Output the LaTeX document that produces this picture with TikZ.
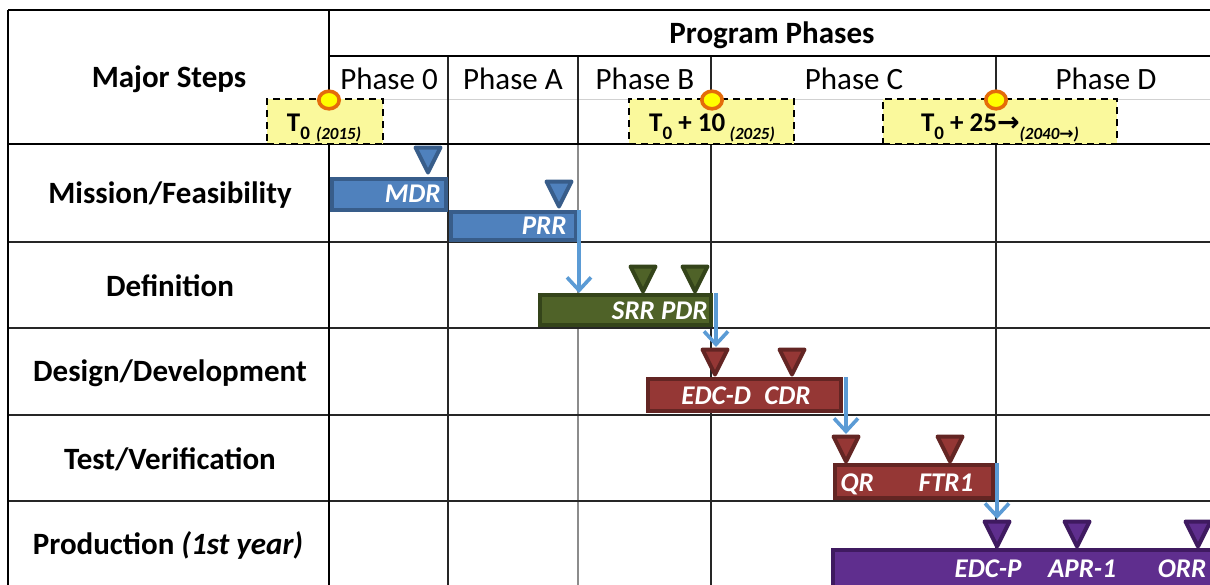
\documentclass[tikz,border=0pt]{standalone}
\usepackage{fontspec}
\setmainfont{Carlito}
\newfontfamily\symfont{DejaVu Sans}
\usetikzlibrary{arrows.meta,shapes.geometric}

\definecolor{boxyellow}{HTML}{FAF99C}
\definecolor{ringorange}{HTML}{E46C0A}
\definecolor{ringyellow}{HTML}{FFFF00}
\definecolor{flowblue}{HTML}{5B9BD5}
\definecolor{bluefill}{HTML}{4F81BD}
\definecolor{blueline}{HTML}{385D8A}
\definecolor{greenfill}{HTML}{4F6228}
\definecolor{greenline}{HTML}{34441A}
\definecolor{redfill}{HTML}{953735}
\definecolor{redline}{HTML}{632523}
\definecolor{purplefill}{HTML}{5F2E8E}
\definecolor{purpleline}{HTML}{3F1A60}

\tikzset{
  frame/.style={line width=1pt, draw=black},
  cell/.style={line width=0.75pt, draw=black!85},
  soft/.style={line width=0.75pt, draw=black!45},
  faint/.style={line width=0.5pt, draw=black!18},
  head/.style={font=\fontsize{15.5}{18}\selectfont\bfseries},
  phase/.style={font=\fontsize{15.5}{18}\selectfont},
  steplabel/.style={font=\fontsize{15.5}{18}\selectfont\bfseries},
  datebox/.style={draw=black, dash pattern=on 3.5pt off 2.5pt, line width=0.75pt,
    fill=boxyellow, anchor=north west, inner sep=0pt, outer sep=0pt},
  datetext/.style={font=\fontsize{13.5}{16}\selectfont\bfseries, anchor=base, inner sep=0pt},
  ring/.style={ellipse, draw=ringorange, fill=ringyellow, line width=1.8pt,
    minimum width=10.2pt, minimum height=8.8pt, inner sep=0pt},
  taskbar/.style={rectangle, line width=2pt, anchor=north west, inner sep=0pt},
  bluebar/.style={taskbar, fill=bluefill, draw=blueline},
  greenbar/.style={taskbar, fill=greenfill, draw=greenline},
  redbar/.style={taskbar, fill=redfill, draw=redline},
  purplebar/.style={taskbar, fill=purplefill, draw=purpleline},
  barlabel/.style={font=\fontsize{13.5}{16}\selectfont\bfseries\itshape, text=white,
    inner sep=0pt},
  ms/.style={line width=2pt, line join=round},
  flow/.style={draw=flowblue, line width=1.8pt,
    -{Straight Barb[length=6.5pt,width=12pt,line width=1.8pt]}}
}

% milestone marker: name, x, top y, style
\newcommand\milestone[4]{%
  \coordinate (#1) at (#2,#3);
  \filldraw[ms,#4] (#2,#3) ++(-12.5,2.5) -- ++(25,0) -- ++(-12.5,25) -- cycle;}

\newcommand\sub[1]{\raisebox{-0.3em}{\fontsize{9.5}{11}\selectfont #1}}
\newcommand\yr[1]{\raisebox{-0.3em}{\fontsize{8.5}{10}\selectfont\itshape #1}}

\begin{document}
\begin{tikzpicture}[x=0.5pt,y=-0.5pt]
\useasboundingbox (0,0) rectangle (1210,584);
\begin{scope}
\clip (0,0) rectangle (1210,584);

% table grid
\draw[faint] (329,99) -- (1215,99);
\draw[soft] (578,144) -- (578,590);
\draw[cell] (448,56) -- (448,590);
\draw[cell] (578,56) -- (578,144);
\draw[cell] (711,56) -- (711,590);
\draw[cell] (996,56) -- (996,590);
\foreach \y in {242,328,415,501} \draw[cell] (8,\y) -- (1215,\y);
\draw[frame] (8,10) -- (1215,10);
\draw[frame] (8,10) -- (8,590);
\draw[frame] (329,10) -- (329,590);
\draw[frame] (329,56) -- (1215,56);
\draw[frame] (8,144) -- (1215,144);

% header texts
\node[head] (title) at (772,35) {Program Phases};
\node[head] (major) at (169,79) {Major Steps};
\node[phase] (p0) at (389,79) {Phase 0};
\node[phase] (pa) at (513,79) {Phase A};
\node[phase] (pb) at (645,79) {Phase B};
\node[phase] (pc) at (854,79) {Phase C};
\node[phase] (pd) at (1106,79) {Phase D};

% date boxes and phase-boundary markers
\node[datebox, minimum width=58pt, minimum height=22.5pt] (d1) at (267,99) {};
\node[datebox, minimum width=82.5pt, minimum height=22.5pt] (d2) at (629,99) {};
\node[datebox, minimum width=117pt, minimum height=22.5pt] (d3) at (883,99) {};
\node[ring] (r1) at (329,100) {};
\node[ring] (r2) at (712,100) {};
\node[ring] (r3) at (996,100) {};
\node[datetext] (t1) at (324,131) {T\sub{0} \yr{(2015)}};
\node[datetext] (t2) at (712,131) {T\sub{0} + 10\,\yr{(2025)}};
\node[datetext] (t3) at (1000,131) {T\sub{0} + 25{\symfont\bfseries →}\yr{(2040{\symfont →})}};

% step labels
\node[steplabel] (s1) at (170,195) {Mission/Feasibility};
\node[steplabel] (s2) at (170,286) {Definition};
\node[steplabel] (s3) at (170,373) {Design/Development};
\node[steplabel] (s4) at (170,459) {Test/Verification};
\node[steplabel] (s5) at (168,545) {Production \textit{(1st year)}};

% task bars
\node[bluebar, minimum width=57pt, minimum height=15.5pt] (mdr) at (330,177) {};
\node[bluebar, minimum width=62.5pt, minimum height=14pt] (prr) at (449,210) {};
\node[greenbar, minimum width=85.5pt, minimum height=15pt] (grn) at (538,293) {};
\node[redbar, minimum width=96.5pt, minimum height=16pt] (dev) at (646,377) {};
\node[redbar, minimum width=79pt, minimum height=16.5pt] (tst) at (833,463) {};
\node[purplebar, minimum width=220pt, minimum height=36pt] (prd) at (831,548) {};

% milestones
\milestone{mMDR}{428}{145}{fill=bluefill, draw=blueline}
\milestone{mPRR}{559}{179}{fill=bluefill, draw=blueline}
\milestone{mSRR}{643}{264}{fill=greenfill, draw=greenline}
\milestone{mPDR}{695}{264}{fill=greenfill, draw=greenline}
\milestone{mEDCD}{715}{347}{fill=redfill, draw=redline}
\milestone{mCDR}{792}{347}{fill=redfill, draw=redline}
\milestone{mQR}{846}{434}{fill=redfill, draw=redline}
\milestone{mFTR}{950}{434}{fill=redfill, draw=redline}
\milestone{mEDCP}{997}{519}{fill=purplefill, draw=purpleline}
\milestone{mAPR}{1077}{519}{fill=purplefill, draw=purpleline}
\milestone{mORR}{1198}{519}{fill=purplefill, draw=purpleline}

% hand-over arrows between steps
\draw[flow] ([xshift=0.5pt]prr.north east) -- ([xshift=0.5pt]prr.north east |- grn.north);
\draw[flow] ([xshift=1.5pt]grn.north east) -- ([xshift=1.5pt]grn.north east |- mEDCD);
\draw[flow] ([xshift=1.5pt]dev.north east) -- ([xshift=1.5pt]dev.north east |- mQR);
\draw[flow] ([xshift=1pt]tst.north east) -- ([xshift=1pt]tst.north east |- mEDCP);

% bar labels
\node[barlabel, anchor=base east] (lMDR) at (441,202) {MDR};
\node[barlabel, anchor=base east] (lPRR) at (567,234) {PRR};
\node[barlabel, anchor=base east] (lSRR) at (708,319) {SRR PDR};
\node[barlabel, anchor=base] (lEDCD) at (746,404) {EDC-D\enspace CDR};
\node[barlabel, anchor=base west] (lQR) at (840,491) {QR};
\node[barlabel, anchor=base] (lFTR) at (946,491) {FTR1};
\node[barlabel, anchor=base] (lEDCP) at (988,577) {EDC-P};
\node[barlabel, anchor=base] (lAPR) at (1082,577) {APR-1};
\node[barlabel, anchor=base] (lORR) at (1182,577) {ORR};
\end{scope}
\end{tikzpicture}
\end{document}
